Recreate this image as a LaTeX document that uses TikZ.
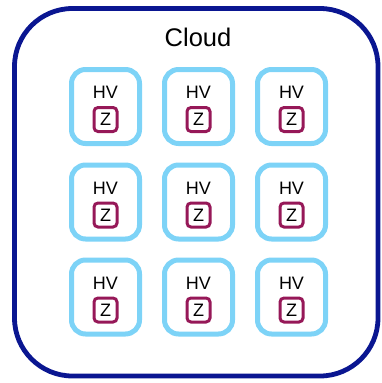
\documentclass[tikz,border=0pt]{standalone}
\usepackage{fontspec}
\setmainfont{Liberation Sans}
\definecolor{navy}{RGB}{10,22,145}
\definecolor{skyb}{RGB}{125,211,247}
\definecolor{plum}{RGB}{150,24,88}
\begin{document}
\begin{tikzpicture}[x=1pt,y=-1pt,
  cloudbox/.style={draw=navy,line width=4.8pt,rounded corners=58pt},
  hvbox/.style={draw=skyb,line width=5pt,rounded corners=14pt,minimum width=68pt,minimum height=74pt,inner sep=0pt},
  zbox/.style={draw=plum,line width=3pt,rounded corners=4pt,minimum width=23pt,minimum height=24pt,inner sep=0pt,font=\fontsize{18}{18}\selectfont},
  hvlabel/.style={font=\fontsize{18}{18}\selectfont,inner sep=0pt}]
\useasboundingbox (0,0) rectangle (382,383);
\draw[cloudbox] (14.5,8.5) rectangle (378,376);
\node[font=\fontsize{25.5}{26}\selectfont] (cloud) at (198,37) {Cloud};
\foreach \c/\x in {1/105.5,2/198.5,3/291.5}{
  \foreach \r/\y in {1/106.5,2/202,3/297}{
    \node[hvbox] (b\c\r) at (\x,\y) {};
    \node[hvlabel] (h\c\r) at (\x,\y-14) {HV};
    \node[zbox] (z\c\r) at (\x,\y+13) {Z};
  }
}
\end{tikzpicture}
\end{document}
